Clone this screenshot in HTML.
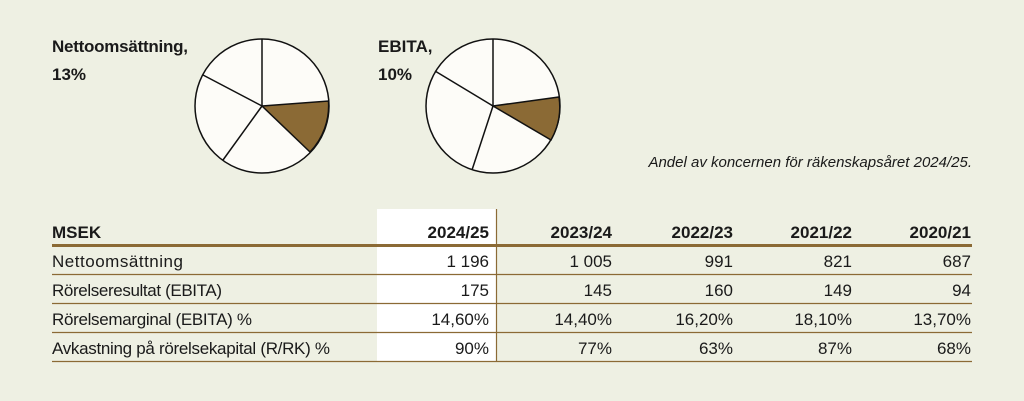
<!DOCTYPE html>
<html><head><meta charset="utf-8"><style>
html,body{margin:0;padding:0;background:#eef0e3;}
svg{display:block}
text{font-family:"Liberation Sans",sans-serif;fill:#1a1a1a}
</style></head><body>
<svg width="1024" height="401" viewBox="0 0 1024 401" xmlns="http://www.w3.org/2000/svg">
<rect width="1024" height="401" fill="#eef0e3"/>
<g font-size="17" font-weight="bold">
<text x="52" y="52" font-weight="bold" textLength="136">Nettoomsättning,</text>
<text x="52" y="80" font-weight="bold">13%</text>
<text x="378" y="52" font-weight="bold">EBITA,</text>
<text x="378" y="80" font-weight="bold">10%</text>
</g>
<g stroke="#111" stroke-width="1.5">
<circle cx="262" cy="106" r="67" fill="#fdfcf8"/>
<path d="M262,106 L328.5,101 A67,67 0 0 1 310,152 Z" fill="#8b6a35"/>
<line x1="262" y1="106" x2="262" y2="39"/>
<line x1="262" y1="106" x2="223" y2="160"/>
<line x1="262" y1="106" x2="203" y2="75"/>
<circle cx="493" cy="106" r="67" fill="#fdfcf8"/>
<path d="M493,106 L559,97 A67,67 0 0 1 551,140 Z" fill="#8b6a35"/>
<line x1="493" y1="106" x2="493" y2="39"/>
<line x1="493" y1="106" x2="472" y2="170"/>
<line x1="493" y1="106" x2="435" y2="71"/>
</g>
<text x="972" y="167" font-size="15" font-style="italic" text-anchor="end">Andel av koncernen för räkenskapsåret 2024/25.</text>
<rect x="377" y="209" width="119" height="152" fill="#ffffff"/>
<line x1="496.5" y1="209" x2="496.5" y2="361" stroke="#8b6a35" stroke-width="1.2"/>
<rect x="52" y="244" width="920" height="3" fill="#8b6a35"/>
<g stroke="#8b6a35" stroke-width="1.3">
<line x1="52" y1="274.5" x2="972" y2="274.5"/>
<line x1="52" y1="303.5" x2="972" y2="303.5"/>
<line x1="52" y1="332.5" x2="972" y2="332.5"/>
<line x1="52" y1="361.5" x2="972" y2="361.5"/>
</g>
<g font-size="17">
<text x="52" y="238" font-weight="bold">MSEK</text>
<text x="489" y="238" text-anchor="end" font-weight="bold">2024/25</text>
<text x="612" y="238" text-anchor="end" font-weight="bold">2023/24</text>
<text x="733" y="238" text-anchor="end" font-weight="bold">2022/23</text>
<text x="852" y="238" text-anchor="end" font-weight="bold">2021/22</text>
<text x="971" y="238" text-anchor="end" font-weight="bold">2020/21</text>
<text x="52" y="267" textLength="131">Nettoomsättning</text>
<text x="489" y="267" text-anchor="end">1 196</text>
<text x="612" y="267" text-anchor="end">1 005</text>
<text x="733" y="267" text-anchor="end">991</text>
<text x="852" y="267" text-anchor="end">821</text>
<text x="971" y="267" text-anchor="end">687</text>
<text x="52" y="296" textLength="170">Rörelseresultat (EBITA)</text>
<text x="489" y="296" text-anchor="end">175</text>
<text x="612" y="296" text-anchor="end">145</text>
<text x="733" y="296" text-anchor="end">160</text>
<text x="852" y="296" text-anchor="end">149</text>
<text x="971" y="296" text-anchor="end">94</text>
<text x="52" y="325" textLength="200">Rörelsemarginal (EBITA) %</text>
<text x="489" y="325" text-anchor="end">14,60%</text>
<text x="612" y="325" text-anchor="end">14,40%</text>
<text x="733" y="325" text-anchor="end">16,20%</text>
<text x="852" y="325" text-anchor="end">18,10%</text>
<text x="971" y="325" text-anchor="end">13,70%</text>
<text x="52" y="354" textLength="278">Avkastning på rörelsekapital (R/RK) %</text>
<text x="489" y="354" text-anchor="end">90%</text>
<text x="612" y="354" text-anchor="end">77%</text>
<text x="733" y="354" text-anchor="end">63%</text>
<text x="852" y="354" text-anchor="end">87%</text>
<text x="971" y="354" text-anchor="end">68%</text>
</g>
</svg>
</body></html>
